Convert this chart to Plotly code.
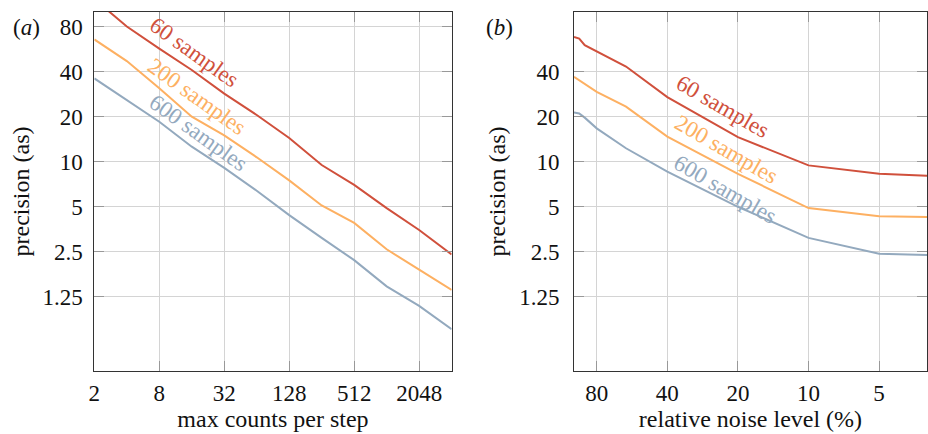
import math
import plotly.graph_objects as go

# ---- data: panel (a) ----
counts = [2, 4, 8, 16, 32, 64, 128, 256, 512, 1024, 2048, 4096]
a_60 = [122, 80, 57, 41, 28.5, 20.5, 14.4, 9.5, 7.0, 4.9, 3.5, 2.4]
a_200 = [65.6, 47, 31, 20, 15, 10.7, 7.5, 5.1, 3.9, 2.6, 1.9, 1.39]
a_600 = [36, 25.8, 18.5, 12.6, 9.1, 6.4, 4.4, 3.1, 2.2, 1.47, 1.09, 0.76]

# ---- data: panel (b) ----
noise = [100, 95, 90, 80, 60, 40, 20, 10, 5, 3.125]
b_60 = [68.0, 66.5, 60.0, 54.7, 43.2, 27.0, 14.6, 9.45, 8.3, 8.07]
b_200 = [36.9, 35.1, 33.0, 29.3, 23.3, 14.7, 8.3, 4.9, 4.32, 4.28]
b_600 = [21.3, 21.0, 19.7, 16.7, 12.3, 8.6, 5.0, 3.1, 2.43, 2.38]

series_names = ["60 samples", "200 samples", "600 samples"]
colors = ["#d0503c", "#fdb062", "#93a9be"]

a_xticks = [2, 8, 32, 128, 512, 2048]
b_xticks = [80, 40, 20, 10, 5]
a_yticks = [1.25, 2.5, 5, 10, 20, 40, 80]
b_yticks = [1.25, 2.5, 5, 10, 20, 40]

# label centres (data coords)
a_lab = [(17.0, 54), (17.8, 27.4), (18.2, 15.6)]
b_lab = [(23.3, 23.2), (22.4, 12.0), (22.6, 6.5)]

FONT = "Liberation Serif, Times New Roman, serif"
W, H = 928, 434

fig = go.Figure()
for ys, c in zip([a_60, a_200, a_600], colors):
    fig.add_trace(go.Scatter(x=counts, y=ys, mode="lines", line=dict(color=c, width=2),
                             xaxis="x", yaxis="y", showlegend=False))
for ys, c in zip([b_60, b_200, b_600], colors):
    fig.add_trace(go.Scatter(x=noise, y=ys, mode="lines", line=dict(color=c, width=2),
                             xaxis="x2", yaxis="y2", showlegend=False))

def px2paper_x(p):
    return p / W

def px2paper_y(p):
    return 1 - p / H

common_axis = dict(
    type="log", showline=True, linecolor="#333", linewidth=1, mirror="allticks",
    ticks="inside", ticklen=10, tickcolor="#999", tickwidth=1,
    showgrid=True, gridcolor="#d4d4d4", gridwidth=1, zeroline=False,
    tickfont=dict(family=FONT, size=23, color="#111"),
    title_font=dict(family=FONT, size=24, color="#111"),
)

ydom = [px2paper_y(371), px2paper_y(12)]
fig.update_layout(
    width=W, height=H, margin=dict(l=0, r=0, t=0, b=0),
    paper_bgcolor="white", plot_bgcolor="white",
    xaxis=dict(common_axis, domain=[px2paper_x(89), px2paper_x(449)],
               range=[math.log10(2), math.log10(4096)],
               tickvals=a_xticks, ticktext=[str(v) for v in a_xticks],
               title=dict(text="max counts per step", standoff=4), anchor="y",
               ticklabelstandoff=1),
    yaxis=dict(common_axis, domain=ydom, range=[math.log10(0.4), math.log10(100)],
               tickvals=a_yticks, ticktext=["1.25", "2.5", "5", "10", "20", "40", "80"],
               title=dict(text="precision (as)", standoff=6), anchor="x",
               ticklabelstandoff=6),
    xaxis2=dict(common_axis, domain=[px2paper_x(572.3), 1.0],
                range=[math.log10(100), math.log10(3.125)],
                tickvals=b_xticks, ticktext=[str(v) for v in b_xticks],
                title=dict(text="relative noise level (%)", standoff=4), anchor="y2",
                ticklabelstandoff=1),
    yaxis2=dict(common_axis, domain=ydom, range=[math.log10(0.4), math.log10(100)],
                tickvals=b_yticks, ticktext=["1.25", "2.5", "5", "10", "20", "40"],
                title=dict(text="precision (as)", standoff=6), anchor="x2",
                ticklabelstandoff=9),
)

anns = []
for (lx, ly), name, c in zip(a_lab, series_names, colors):
    anns.append(dict(x=math.log10(lx), y=math.log10(ly), xref="x", yref="y", text=name,
                     showarrow=False, textangle=35.5,
                     font=dict(family=FONT, size=23, color=c)))
for (lx, ly), name, c in zip(b_lab, series_names, colors):
    anns.append(dict(x=math.log10(lx), y=math.log10(ly), xref="x2", yref="y2", text=name,
                     showarrow=False, textangle=30,
                     font=dict(family=FONT, size=23, color=c)))
anns.append(dict(x=px2paper_x(21), y=px2paper_y(27), xref="paper", yref="paper",
                 xanchor="center", yanchor="middle",
                 text="(<i>a</i>)", showarrow=False, font=dict(family=FONT, size=23, color="#111")))
anns.append(dict(x=px2paper_x(497), y=px2paper_y(27), xref="paper", yref="paper",
                 xanchor="center", yanchor="middle",
                 text="(<i>b</i>)", showarrow=False, font=dict(family=FONT, size=23, color="#111")))
fig.update_layout(annotations=anns)

fig.write_html("out.html")
